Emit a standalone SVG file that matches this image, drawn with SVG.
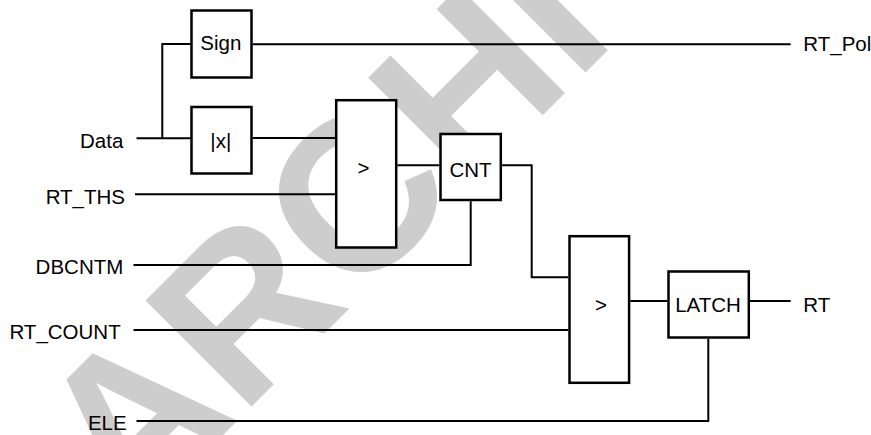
<svg xmlns="http://www.w3.org/2000/svg" width="871" height="435" viewBox="0 0 871 435">
<style>
.wm{font-family:"Liberation Sans",Arial,sans-serif;font-weight:bold;font-size:218px;fill:#cdcdcd}
.box{fill:#fff;stroke:#000;stroke-width:2.5}
.wire{fill:none;stroke:#000;stroke-width:2}
.t{font-family:"Liberation Sans",Arial,Helvetica,sans-serif;font-size:20.5px;fill:#000}
.m{text-anchor:middle}
.e{text-anchor:end}
</style>
<rect width="871" height="435" fill="#fff"/>
<text class="wm" x="130" y="528" transform="rotate(-45 130 528)">ARCHIVE</text>
<g id="connectors">
<path class="wire" d="M136.5,138.3 H191"/>
<path class="wire" d="M162.3,138.3 V44 H191"/>
<path class="wire" d="M252.7,44.3 H790.7"/>
<path class="wire" d="M252.7,138 H335"/>
<path class="wire" d="M135,194.3 H335"/>
<path class="wire" d="M397.3,165.3 H439.3"/>
<path class="wire" d="M502,165.3 H531.7 V277.3 H568.3"/>
<path class="wire" d="M133.5,265 H470.7 V201.3"/>
<path class="wire" d="M133.5,330 H568.3"/>
<path class="wire" d="M630.3,301 H667.3"/>
<path class="wire" d="M750,301 H790.7"/>
<path class="wire" d="M136.5,421 H708.3 V338.7"/>
</g>
<g id="in-data"><text class="t e" x="123.3" y="148">Data</text></g>
<g id="in-rtths"><text class="t e" x="125" y="203.8">RT_THS</text></g>
<g id="in-dbcntm"><text class="t e" x="123.3" y="274">DBCNTM</text></g>
<g id="in-rtcount"><text class="t e" x="120.7" y="339.3">RT_COUNT</text></g>
<g id="in-ele"><text class="t e" x="126.7" y="430">ELE</text></g>
<g id="sign"><rect class="box" x="191.5" y="10.5" width="60" height="67"/><text class="t m" x="220.8" y="50">Sign</text></g>
<g id="abs"><rect class="box" x="191.5" y="107" width="60" height="66.5"/><text class="t m" x="220.8" y="148">|x|</text></g>
<g id="cmp1"><rect class="box" x="336.2" y="100.2" width="60" height="147.3"/><text class="t m" x="363.5" y="175">&gt;</text></g>
<g id="cnt"><rect class="box" x="440.5" y="134" width="60.3" height="66"/><text class="t m" x="470.5" y="176.5">CNT</text></g>
<g id="cmp2"><rect class="box" x="569.5" y="236.2" width="59.6" height="146.6"/><text class="t m" x="601" y="311.5">&gt;</text></g>
<g id="latch"><rect class="box" x="668.5" y="271.5" width="80.3" height="66"/><text class="t m" x="708" y="312.3">LATCH</text></g>
<g id="out-rtpol"><text class="t" x="803.3" y="51">RT_Pol</text></g>
<g id="out-rt"><text class="t" x="803.3" y="312.3">RT</text></g>
</svg>
